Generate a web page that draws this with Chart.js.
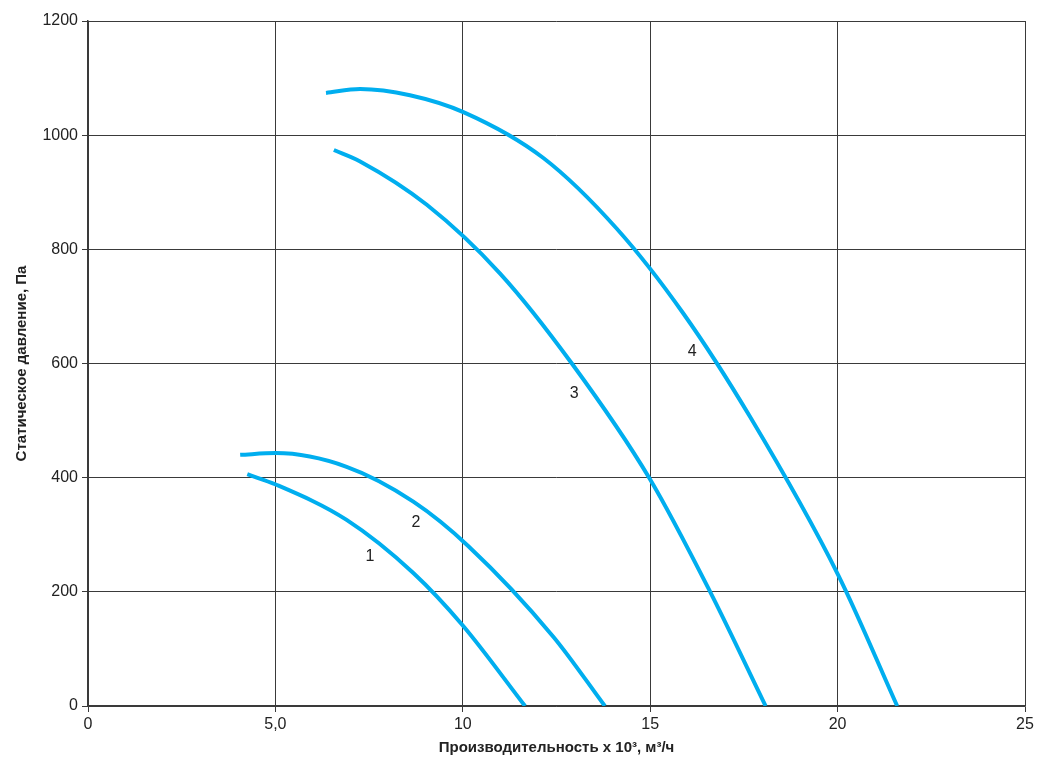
<!DOCTYPE html>
<html>
<head>
<meta charset="utf-8">
<script src="https://cdn.jsdelivr.net/npm/chart.js@4.4.0/dist/chart.umd.min.js"></script>
<style>
    body { margin: 0; background: #fff; }
    #wrap { width: 1052px; height: 766px; }
</style>
</head>
<body>
<div id="wrap"><canvas id="fanChart" width="1052" height="766"></canvas></div>
<script>
// curves: [flow x10^3 m3/h, static pressure Pa]
const curve1 = [[4.25, 406], [5.01, 388], [6.9, 326], [8.68, 233], [10, 141], [11.66, 0]];
const curve2 = [[4.06, 440], [5.01, 443], [6.9, 419], [8.68, 358], [10.15, 280], [12.42, 121], [13.79, 0]];
const curve3 = [[6.56, 974], [7.26, 954], [9.04, 878], [10.99, 758], [12.91, 600], [14.98, 399], [16.6, 200], [18.08, 0]];
const curve4 = [[6.35, 1074], [7.26, 1081], [8.59, 1070], [10.03, 1040], [12.15, 960], [14.11, 836], [15.88, 688], [17.66, 507], [20.02, 229], [21.59, 0]];

const curveNames = ['1', '2', '3', '4'];
// where the curve numbers sit, in chart units
const nameSpots = [[7.52, 261], [8.75, 322], [12.97, 548], [16.12, 620]];

const xTicks = [0, 5, 10, 15, 20, 25];
const xTickLabels = ['0', '5,0', '10', '15', '20', '25'];
const yTicks = [0, 200, 400, 600, 800, 1000, 1200];

const lineColor = '#00AEEF';
const gridColor = '#3a3a3a';
const fontFamily = '"Liberation Sans", Arial, sans-serif';

function toPoints(arr) {
    return arr.map(p => ({ x: p[0], y: p[1] }));
}

const curveLabels = {
    id: 'curveLabels',
    afterDatasetsDraw(chart) {
        const ctx = chart.ctx;
        const xs = chart.scales.x;
        const ys = chart.scales.y;
        ctx.save();
        ctx.font = '16px ' + fontFamily;
        ctx.fillStyle = '#222';
        ctx.textAlign = 'center';
        ctx.textBaseline = 'middle';
        nameSpots.forEach((s, i) => {
            ctx.fillText(curveNames[i], xs.getPixelForValue(s[0]), ys.getPixelForValue(s[1]));
        });
        ctx.restore();
    }
};

const sets = [curve1, curve2, curve3, curve4].map((c, i) => ({
    label: curveNames[i],
    data: toPoints(c),
    borderColor: lineColor,
    borderWidth: 4,
    pointRadius: 0,
    fill: false,
    cubicInterpolationMode: 'monotone',
    borderCapStyle: 'butt'
}));

new Chart(document.getElementById('fanChart'), {
    type: 'line',
    data: { datasets: sets },
    options: {
        responsive: false,
        animation: false,
        layout: { padding: { top: 21, right: 27, left: 0, bottom: 0 } },
        plugins: {
            legend: { display: false },
            tooltip: { enabled: false }
        },
        scales: {
            x: {
                type: 'linear',
                min: 0,
                max: 25,
                afterBuildTicks: s => { s.ticks = xTicks.map(v => ({ value: v })); },
                afterFit: s => { s.height = 60; },
                ticks: {
                    padding: 3,
                    color: '#222',
                    font: { family: fontFamily, size: 16 },
                    callback: (v) => xTickLabels[xTicks.indexOf(v)],
                    maxRotation: 0
                },
                grid: { color: gridColor, lineWidth: 1, tickLength: 6, tickColor: gridColor },
                border: { color: gridColor, width: 1.5 },
                title: {
                    display: true,
                    text: 'Производительность х 10³, м³/ч',
                    color: '#222',
                    font: { family: fontFamily, size: 15, weight: 'bold' },
                    padding: { top: 0, bottom: 9 }
                }
            },
            y: {
                type: 'linear',
                min: 0,
                max: 1200,
                afterBuildTicks: s => { s.ticks = yTicks.map(v => ({ value: v })); },
                afterFit: s => { s.width = 88; },
                ticks: {
                    padding: 4,
                    color: '#222',
                    font: { family: fontFamily, size: 16 },
                    callback: (v) => String(v)
                },
                grid: { color: gridColor, lineWidth: 1, tickLength: 6, tickColor: gridColor },
                border: { color: gridColor, width: 1.5 },
                title: {
                    display: true,
                    text: 'Статическое давление, Па',
                    color: '#222',
                    font: { family: fontFamily, size: 15, weight: 'bold' },
                    padding: { top: 13, bottom: 0 }
                }
            }
        }
    },
    plugins: [curveLabels]
});
</script>
</body>
</html>
